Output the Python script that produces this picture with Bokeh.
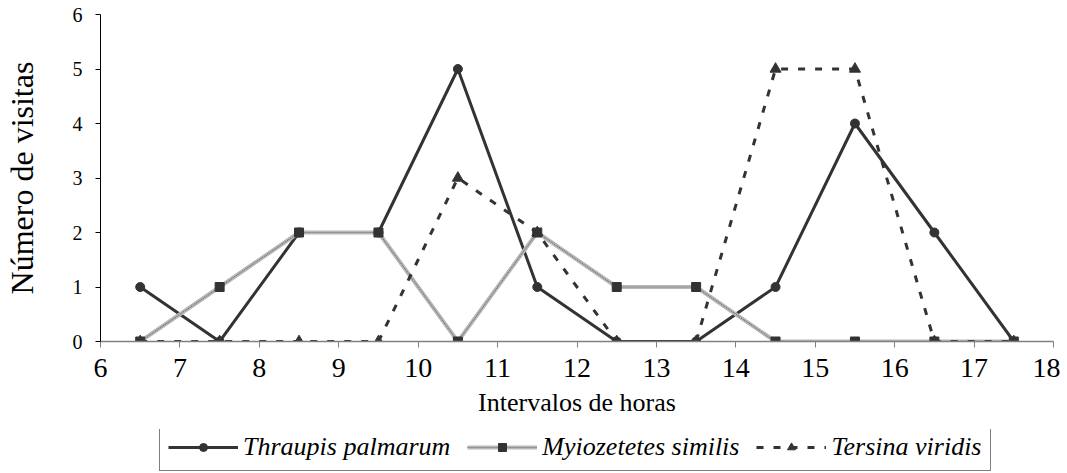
from bokeh.plotting import figure
from bokeh.models import Legend, LegendItem, FixedTicker, Range1d
from bokeh.layouts import column
from bokeh.embed import file_html
from bokeh.resources import INLINE

# Data
hours = [6.5, 7.5, 8.5, 9.5, 10.5, 11.5, 12.5, 13.5, 14.5, 15.5, 16.5, 17.5]
thraupis = [1, 0, 2, 2, 5, 1, 0, 0, 1, 4, 2, 0]
myiozetetes = [0, 1, 2, 2, 0, 2, 1, 1, 0, 0, 0, 0]
tersina = [0, 0, 0, 0, 3, 2, 0, 0, 5, 5, 0, 0]
x_ticks = list(range(6, 19))
y_ticks = list(range(0, 7))
names = ["Thraupis palmarum", "Myiozetetes similis", "Tersina viridis"]

FONT = "Liberation Serif"
DARK = "#333333"

STY = {
    "l1": dict(line_color=DARK, line_width=3),
    "l2a": dict(line_color="#b8b8b8", line_width=4),
    "l2b": dict(line_color="#6e6e6e", line_width=1.2, line_dash="1 1"),
    "l3": dict(line_color=DARK, line_width=3, line_dash="7 10"),
    "m1": dict(marker="circle", size=9, fill_color=DARK, line_color=DARK),
    "m2": dict(marker="square", size=9, fill_color=DARK, line_color=DARK),
    "m3": dict(marker="triangle", size=11, fill_color=DARK, line_color=DARK),
}

p = figure(output_backend="svg", toolbar_location=None,
           width=1060, height=429,
           x_range=Range1d(6, 18), y_range=Range1d(0, 6),
           min_border_left=97, min_border_top=14, min_border_right=7, min_border_bottom=88)
p.grid.visible = False
p.outline_line_color = None

p.line(hours, thraupis, **STY["l1"])
p.line(hours, myiozetetes, **STY["l2a"])
p.line(hours, myiozetetes, **STY["l2b"])
p.line(hours, tersina, **STY["l3"])
p.scatter(hours, thraupis, **STY["m1"])
p.scatter(hours, tersina, **STY["m3"])
p.scatter(hours, myiozetetes, **STY["m2"])

xa = p.xaxis[0]
xa.ticker = FixedTicker(ticks=x_ticks)
xa.axis_label = "Intervalos de horas"
xa.axis_label_text_font = FONT
xa.axis_label_text_font_style = "normal"
xa.axis_label_text_font_size = "26px"
xa.axis_label_text_color = "black"
xa.axis_label_standoff = 8
xa.major_label_text_font = FONT
xa.major_label_text_font_size = "28px"
xa.major_label_text_color = "black"
xa.major_label_standoff = 11
xa.major_tick_in = 0
xa.major_tick_out = 6
xa.minor_tick_in = 0
xa.minor_tick_out = 0
xa.axis_line_color = "#808080"
xa.major_tick_line_color = "#808080"
xa.axis_line_width = 1.5

ya = p.yaxis[0]
ya.ticker = FixedTicker(ticks=y_ticks)
ya.axis_label = "Número de visitas"
ya.axis_label_text_font = FONT
ya.axis_label_text_font_style = "normal"
ya.axis_label_text_font_size = "32px"
ya.axis_label_text_color = "black"
ya.axis_label_standoff = 30
ya.major_label_text_font = FONT
ya.major_label_text_font_size = "20px"
ya.major_label_text_color = "black"
ya.major_label_standoff = 13
ya.major_tick_in = 0
ya.major_tick_out = 5
ya.minor_tick_in = 0
ya.minor_tick_out = 0
ya.axis_line_color = "black"
ya.major_tick_line_color = "black"

# Legend strip below the chart (its renderers lie outside its visible range)
q = figure(output_backend="svg", toolbar_location=None, width=1060, height=42,
           x_range=Range1d(6, 18), y_range=Range1d(100, 101),
           x_axis_location=None, y_axis_location=None, min_border=0)
q.grid.visible = False
q.outline_line_color = None
r1 = [q.line(hours, thraupis, **STY["l1"]), q.scatter(hours, thraupis, **STY["m1"])]
r2 = [q.line(hours, myiozetetes, **STY["l2a"]), q.line(hours, myiozetetes, **STY["l2b"]),
      q.scatter(hours, myiozetetes, **STY["m2"])]
r3 = [q.line(hours, tersina, **STY["l3"]), q.scatter(hours, tersina, **STY["m3"])]
legend = Legend(items=[
    LegendItem(label=names[0], renderers=r1),
    LegendItem(label=names[1], renderers=r2),
    LegendItem(label=names[2], renderers=r3),
], orientation="horizontal", location=(59, 0))
legend.label_text_font = FONT
legend.label_text_font_style = "italic"
legend.label_text_font_size = "26px"
legend.label_text_color = "black"
legend.label_height = 26
legend.glyph_width = 70
legend.glyph_height = 20
legend.label_standoff = 5
legend.spacing = 17
legend.padding = 8
legend.margin = 0
legend.border_line_color = "black"
legend.border_line_width = 1
q.add_layout(legend, "center")

layout = column(p, q, spacing=0)
open("out.html", "w").write(file_html(layout, INLINE))
